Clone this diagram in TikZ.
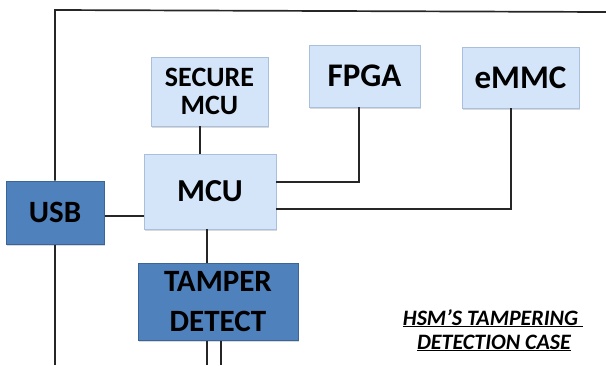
\documentclass[tikz,border=0pt]{standalone}
\usepackage{fontspec}
\setmainfont{Carlito}
\usetikzlibrary{shadows}
\definecolor{paleblue}{HTML}{D4E5FA}
\definecolor{paleedge}{HTML}{A9BFDB}
\definecolor{deepblue}{HTML}{4F81BD}
\definecolor{deepedge}{HTML}{3A6596}
\definecolor{wirecol}{HTML}{262626}

\begin{document}
\begin{tikzpicture}[x=1pt,y=-1pt,
  box/.style={rectangle, inner sep=0pt, align=center, text=black,
    drop shadow={shadow xshift=1.2pt, shadow yshift=-1.5pt, opacity=0.3}},
  lightbox/.style={box, draw=paleedge, line width=0.8pt, fill=paleblue,
    path picture={\draw[white, opacity=0.6, line width=2.4pt]
      (path picture bounding box.south west) -- (path picture bounding box.north west)
      -- (path picture bounding box.north east);}},
  darkbox/.style={box, draw=deepedge, line width=1pt, fill=deepblue},
  wire/.style={draw=wirecol, line width=1.4pt},
  frameline/.style={draw=wirecol, line width=1.7pt},
]
\useasboundingbox (0,0) rectangle (606,365);

% blocks
\node[lightbox, minimum width=117pt, minimum height=69pt,
      font=\fontsize{28}{28}\selectfont\bfseries] (smcu) at (209.5,91.5) {SECURE\\MCU};
\node[lightbox, minimum width=111pt, minimum height=62pt,
      font=\fontsize{33}{33}\selectfont\bfseries] (fpga) at (364.5,76) {FPGA};
\node[lightbox, minimum width=117pt, minimum height=61pt,
      font=\fontsize{33}{33}\selectfont\bfseries] (emmc) at (520.5,77.5) {eMMC};
\node[lightbox, minimum width=132pt, minimum height=75pt,
      font=\fontsize{32}{32}\selectfont\bfseries] (mcu) at (210,191.5) {MCU};
\node[darkbox, minimum width=98pt, minimum height=63pt,
      font=\fontsize{31}{31}\selectfont\bfseries] (usb) at (55,212.5) {USB};
\node[darkbox, minimum width=160pt, minimum height=77pt,
      font=\fontsize{31}{40}\selectfont\bfseries] (tamper) at (218,301.5) {TAMPER\\DETECT};

% caption
\node[anchor=base, inner sep=0pt, font=\fontsize{22}{24}\selectfont\bfseries\itshape]
  (cap1) at (493,325) {\underline{HSM’S TAMPERING\ }};
\node[anchor=base, inner sep=0pt, font=\fontsize{22}{24}\selectfont\bfseries\itshape]
  (cap2) at (494,349) {\underline{DETECTION CASE}};

% enclosure outline
\coordinate (fcorner) at (55,10);
\coordinate (fright) at (606,12);
\coordinate (fbottom) at (55,365);
\draw[frameline] (usb.north) -- (fcorner) -- (fright);
\draw[frameline] (usb.south) -- (fbottom);

% connections
\coordinate (sj) at (200,140);
\draw[wire] (smcu.south -| sj) -- (mcu.north -| sj);
\coordinate (uj) at (120,216);
\draw[wire] (usb.east |- uj) -- (mcu.west |- uj);
\coordinate (tj) at (207,245);
\draw[wire] (mcu.south -| tj) -- (tamper.north -| tj);
\coordinate (fj) at (359,182);
\draw[wire] (mcu.east |- fj) -- (fj) -- (fj |- fpga.south);
\coordinate (ej) at (511,209);
\draw[wire] (mcu.east |- ej) -- (ej) -- (ej |- emmc.south);
\coordinate (ta) at (207,365);
\coordinate (tb) at (221,365);
\draw[wire] (tamper.south -| ta) -- (ta);
\draw[wire] (tamper.south -| tb) -- (tb);
\end{tikzpicture}
\end{document}
